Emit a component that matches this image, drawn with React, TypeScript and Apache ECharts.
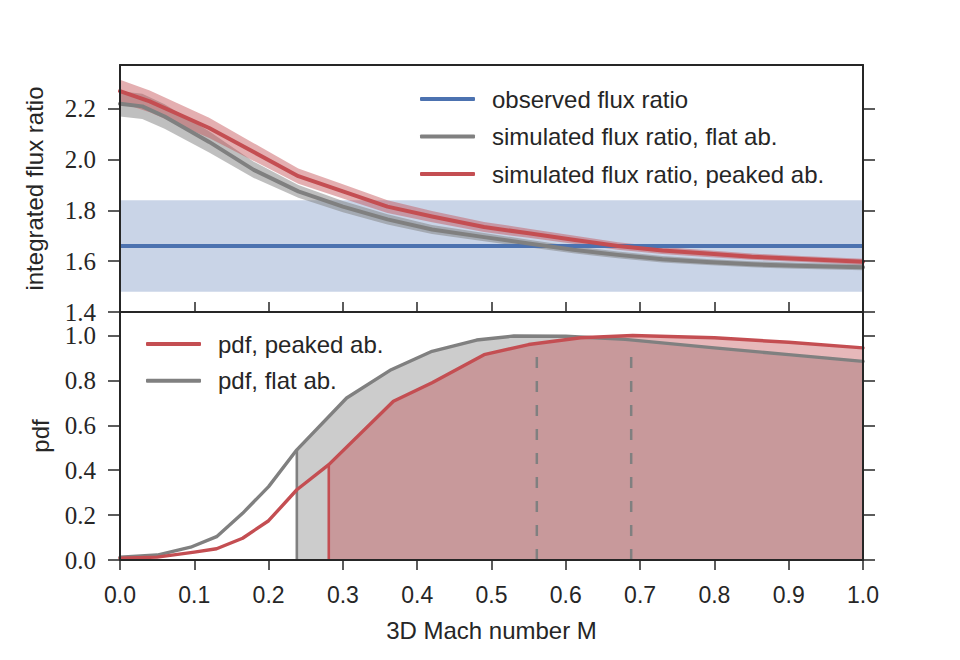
import React, { useEffect, useRef } from "react";
import * as echarts from "echarts";

// ---- data ----
const FLUX_TICKS = [1.4, 1.6, 1.8, 2.0, 2.2];
const PDF_TICKS = [0, 0.2, 0.4, 0.6, 0.8, 1.0];

const OBS_SPAN = [0, 1];
const OBS_RATIO = 1.66;
const OBS_LOW = 1.48;
const OBS_HIGH = 1.84;

const FLAT_M = [0, 0.03, 0.06, 0.12, 0.18, 0.24, 0.3, 0.36, 0.42, 0.49, 0.55, 0.61, 0.67, 0.73, 0.79, 0.85, 0.91, 1.0];
const FLAT_RATIO = [2.22, 2.21, 2.17, 2.07, 1.96, 1.875, 1.815, 1.765, 1.725, 1.695, 1.67, 1.645, 1.625, 1.608, 1.597, 1.588, 1.582, 1.576];
const FLAT_LOW = [2.17, 2.16, 2.122, 2.028, 1.928, 1.85, 1.793, 1.745, 1.707, 1.679, 1.655, 1.631, 1.612, 1.595, 1.585, 1.576, 1.57, 1.564];
const FLAT_HIGH = [2.27, 2.26, 2.218, 2.112, 1.992, 1.9, 1.837, 1.785, 1.743, 1.711, 1.685, 1.659, 1.638, 1.621, 1.609, 1.6, 1.594, 1.588];

const PEAK_M = [0, 0.04, 0.12, 0.18, 0.24, 0.3, 0.36, 0.42, 0.49, 0.55, 0.61, 0.67, 0.73, 0.79, 0.85, 0.91, 1.0];
const PEAK_RATIO = [2.27, 2.23, 2.125, 2.03, 1.935, 1.875, 1.815, 1.776, 1.735, 1.71, 1.685, 1.66, 1.642, 1.63, 1.618, 1.61, 1.598];
const PEAK_LOW = [2.225, 2.187, 2.085, 1.995, 1.905, 1.847, 1.79, 1.754, 1.715, 1.692, 1.669, 1.645, 1.628, 1.617, 1.606, 1.598, 1.586];
const PEAK_HIGH = [2.315, 2.273, 2.165, 2.065, 1.965, 1.903, 1.84, 1.798, 1.755, 1.728, 1.701, 1.675, 1.656, 1.643, 1.63, 1.622, 1.61];

const PDF_FLAT_M = [0, 0.05, 0.095, 0.13, 0.165, 0.2, 0.238, 0.305, 0.365, 0.42, 0.48, 0.53, 0.6, 0.68, 0.8, 0.9, 1.0];
const PDF_FLAT = [0.012, 0.022, 0.057, 0.104, 0.208, 0.327, 0.491, 0.722, 0.848, 0.93, 0.98, 0.998, 0.997, 0.983, 0.945, 0.915, 0.885];
const PDF_PEAK_M = [0, 0.05, 0.1, 0.13, 0.165, 0.2, 0.238, 0.281, 0.368, 0.42, 0.49, 0.55, 0.62, 0.69, 0.8, 0.9, 1.0];
const PDF_PEAK = [0.008, 0.013, 0.035, 0.05, 0.097, 0.175, 0.313, 0.425, 0.707, 0.79, 0.915, 0.96, 0.99, 1.0, 0.99, 0.97, 0.945];

const FLAT_CUT = 0.238;
const PEAK_CUT = 0.281;
const DASH_M = [0.561, 0.688];
const DASH_TOP = 0.94;

const TOP_LEGEND = ["observed flux ratio", "simulated flux ratio, flat ab.", "simulated flux ratio, peaked ab."];
const BOTTOM_LEGEND = ["pdf, peaked ab.", "pdf, flat ab."];

// ---- style ----
const BLUE = "#4c72b0";
const RED = "#c44e52";
const GREY = "#808080";
const INK = "#262626";
const SANS = "'Liberation Sans', Arial, sans-serif";
const SERIF = "'Liberation Serif', 'Times New Roman', serif";

const zip = (xs: number[], ys: number[]) => xs.map((x, i) => [x, ys[i]]);

// filled band between low and high, drawn as one polygon through the axis scales
function band(id: string, xs: number[], low: number[], high: number[], color: string, opacity: number, axis: number) {
  return {
    type: "custom", name: id, xAxisIndex: axis, yAxisIndex: axis, silent: true,
    coordinateSystem: "cartesian2d",
    data: [[xs[0], low[0]]],
    encode: { x: 0, y: 1 },
    renderItem: (_params: any, api: any) => {
      const upper = xs.map((x, i) => api.coord([x, high[i]]));
      const lower = xs.map((x, i) => api.coord([x, low[i]])).reverse();
      return {
        type: "polygon",
        shape: { points: upper.concat(lower) },
        style: { fill: color, opacity },
      };
    },
  };
}

function lineSeries(name: string, data: number[][], color: string, width: number, axis: number, extra: any = {}) {
  return {
    type: "line", name, xAxisIndex: axis, yAxisIndex: axis, data, symbol: "none", silent: true,
    color, itemStyle: { color },
    lineStyle: { color, width, cap: "round", join: "round", ...(extra.lineStyle || {}) },
  };
}

function fillSeries(name: string, data: number[][], color: string, opacity: number, axis: number) {
  return {
    type: "line", name, xAxisIndex: axis, yAxisIndex: axis, data, symbol: "none", silent: true,
    lineStyle: { opacity: 0, width: 0 }, areaStyle: { color, opacity },
  };
}

const fmt = (v: number) => v.toFixed(1);

function xAxisDef(grid: number, position: string, ticks: boolean, labels: boolean, name?: string) {
  return {
    type: "value", gridIndex: grid, position, min: 0, max: 1, interval: 0.1, z: 10,
    axisLine: { show: true, onZero: false, lineStyle: { color: INK, width: 2 } },
    axisTick: { show: ticks, inside: false, length: 10, lineStyle: { color: INK, width: 1.5 } },
    axisLabel: { show: labels, margin: 23, formatter: fmt, fontFamily: SANS, fontSize: 23, color: INK },
    splitLine: { show: false },
    name, nameLocation: "middle", nameGap: 58,
    nameTextStyle: { fontFamily: SANS, fontSize: 24, color: INK },
  };
}

function yAxisDef(grid: number, position: string, min: number, max: number, ticks: number[], labels: boolean, name?: string, nameGap?: number) {
  return {
    type: "value", gridIndex: grid, position, min, max, z: 10,
    axisLine: { show: true, onZero: false, lineStyle: { color: INK, width: 2 } },
    axisTick: { show: true, inside: false, length: 12, customValues: ticks, lineStyle: { color: INK, width: 1.5 } },
    axisLabel: { show: labels, customValues: ticks, margin: 24, formatter: fmt, fontFamily: SERIF, fontSize: 25, lineHeight: 22, color: INK },
    splitLine: { show: false },
    name, nameLocation: "middle", nameGap,
    nameTextStyle: { fontFamily: SANS, fontSize: 24, color: INK },
  };
}

function legendDef(left: number, top: number, data: string[], gap: number) {
  return {
    left, top, orient: "vertical", data, icon: "roundRect", itemWidth: 55, itemHeight: 4, itemGap: gap,
    selectedMode: false, itemStyle: { borderWidth: 0 },
    textStyle: { fontFamily: SANS, fontSize: 24, color: INK, lineHeight: 24, padding: [0, 0, 0, 12] },
  };
}

export default function App() {
  const ref = useRef<HTMLDivElement>(null);
  useEffect(() => {
    if (!ref.current) return;
    const chart = echarts.init(ref.current, undefined, { renderer: "svg" });

    const flatFill = zip(PDF_FLAT_M, PDF_FLAT).filter((p) => p[0] >= FLAT_CUT);
    const peakFill = zip(PDF_PEAK_M, PDF_PEAK).filter((p) => p[0] >= PEAK_CUT);
    const flatCutTop = PDF_FLAT[PDF_FLAT_M.indexOf(FLAT_CUT)];
    const peakCutTop = PDF_PEAK[PDF_PEAK_M.indexOf(PEAK_CUT)];

    const series: any[] = [
      band("obs-band", OBS_SPAN, OBS_SPAN.map(() => OBS_LOW), OBS_SPAN.map(() => OBS_HIGH), BLUE, 0.3, 0),
      band("flat-band", FLAT_M, FLAT_LOW, FLAT_HIGH, GREY, 0.5, 0),
      band("peak-band", PEAK_M, PEAK_LOW, PEAK_HIGH, RED, 0.45, 0),
      lineSeries(TOP_LEGEND[0], OBS_SPAN.map((x) => [x, OBS_RATIO]), BLUE, 3.8, 0, { lineStyle: { cap: "butt" } }),
      lineSeries(TOP_LEGEND[1], zip(FLAT_M, FLAT_RATIO), GREY, 4, 0),
      lineSeries(TOP_LEGEND[2], zip(PEAK_M, PEAK_RATIO), RED, 4, 0),
      fillSeries("flat-fill", flatFill, GREY, 0.4, 2),
      fillSeries("peak-fill", peakFill, RED, 0.4, 2),
      lineSeries("flat-cut", [[FLAT_CUT, 0], [FLAT_CUT, flatCutTop]], GREY, 2.6, 2, { lineStyle: { cap: "butt" } }),
      lineSeries("peak-cut", [[PEAK_CUT, 0], [PEAK_CUT, peakCutTop]], RED, 2.6, 2, { lineStyle: { cap: "butt" } }),
      ...DASH_M.map((m, i) =>
        lineSeries("dash" + i, [[m, 0], [m, DASH_TOP]], GREY, 2.5, 2, { lineStyle: { type: [11, 13], cap: "butt" } })
      ),
      lineSeries(BOTTOM_LEGEND[1], zip(PDF_FLAT_M, PDF_FLAT), GREY, 3.4, 2),
      lineSeries(BOTTOM_LEGEND[0], zip(PDF_PEAK_M, PDF_PEAK), RED, 3.4, 2),
    ];

    chart.setOption({
      animation: false,
      backgroundColor: "#ffffff",
      grid: [
        { left: 120, right: 97, top: 65, height: 247 },
        { left: 120, right: 97, top: 312, height: 248 },
      ],
      xAxis: [
        xAxisDef(0, "bottom", false, false),
        xAxisDef(0, "top", false, false),
        xAxisDef(1, "bottom", true, true, "3D Mach number M"),
        xAxisDef(1, "top", true, false),
      ],
      yAxis: [
        yAxisDef(0, "left", 1.4, 2.373, FLUX_TICKS, true, "integrated flux ratio", 74),
        yAxisDef(0, "right", 1.4, 2.373, FLUX_TICKS, false),
        yAxisDef(1, "left", 0, 1.105, PDF_TICKS, true, "pdf", 68),
        yAxisDef(1, "right", 0, 1.105, PDF_TICKS, false),
      ],
      legend: [
        legendDef(415, 82, TOP_LEGEND, 13.5),
        legendDef(141, 327, BOTTOM_LEGEND, 12.7),
      ],
      series,
    });
    return () => chart.dispose();
  }, []);
  return <div ref={ref} style={{ position: "fixed", left: 0, top: 0, width: 960, height: 660 }} />;
}
